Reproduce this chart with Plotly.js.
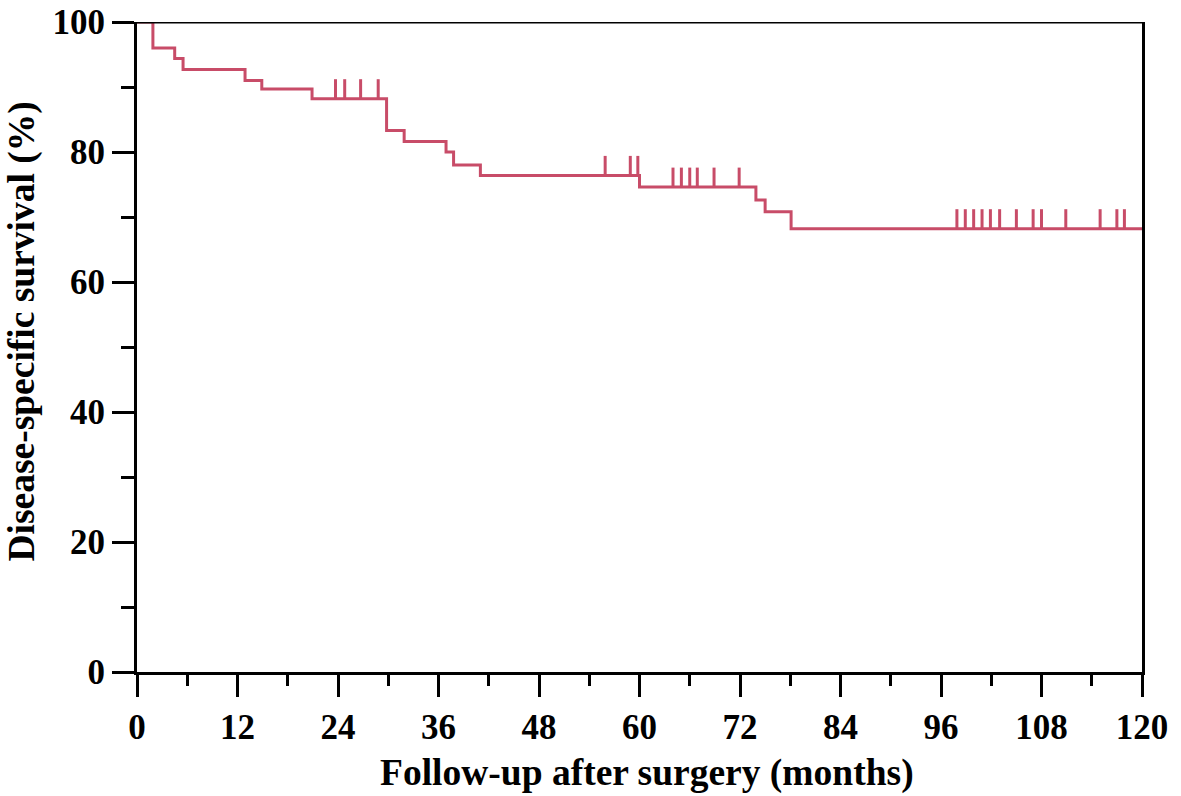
<!DOCTYPE html>
<html>
<head>
<meta charset="utf-8">
<script src="https://cdn.plot.ly/plotly-3.0.1.min.js"></script>
<style>html,body{margin:0;padding:0;background:#fff;}#chart{width:1181px;height:796px;}</style>
</head>
<body>
<div id="chart"></div>
<script>
// Kaplan-Meier step curve (months, survival %)
const stepTimes    = [0, 1.9, 4.5, 5.5, 12.9, 14.9, 20.9, 29.8, 31.9, 36.9, 37.8, 41.0, 60.0, 73.9, 75.0, 78.1, 120];
const stepSurvival = [100, 96.0, 94.4, 92.7, 91.0, 89.7, 88.2, 83.3, 81.6, 80.0, 78.0, 76.4, 74.6, 72.6, 70.8, 68.2, 68.2];
// Censored observations (months)
const censorTimes = [23.7, 24.8, 26.7, 28.8, 55.9, 58.9, 59.8, 64.0, 65.0, 66.0, 66.9, 68.9, 71.9,
                     97.9, 98.9, 99.9, 100.9, 101.9, 103.0, 105.0, 107.0, 108.0, 110.9, 115.0, 117.0, 117.9];
const xTickVals = [0, 12, 24, 36, 48, 60, 72, 84, 96, 108, 120];
const yTickVals = [0, 20, 40, 60, 80, 100];
const xTitle = 'Follow-up after surgery (months)';
const yTitle = 'Disease-specific survival (%)';

const COLOR = '#c84c68';
const TICK_H = 3;

function survAt(t) {
  let s = stepSurvival[0];
  for (let i = 0; i < stepTimes.length; i++) {
    if (stepTimes[i] <= t) s = stepSurvival[i];
  }
  return s;
}

const cx = [], cy = [];
censorTimes.forEach(t => {
  const s = survAt(t);
  cx.push(t, t, null);
  cy.push(s, s + TICK_H, null);
});

const font = {family: 'Liberation Serif, Times New Roman, serif', size: 35, color: '#000', weight: 700};
const titleFont = Object.assign({}, font, {size: 37.5});

const traces = [
  {x: stepTimes, y: stepSurvival, type: 'scatter', mode: 'lines', line: {shape: 'hv', color: COLOR, width: 3}, hoverinfo: 'skip'},
  {x: cx, y: cy, type: 'scatter', mode: 'lines', line: {color: COLOR, width: 3}, hoverinfo: 'skip'}
];

const axisCommon = {
  showgrid: false, zeroline: false,
  showline: true, linecolor: '#000', linewidth: 3,
  ticks: 'outside', ticklen: 22, tickwidth: 3, tickcolor: '#000',
  tickfont: font
};

const layout = {
  width: 1181, height: 796,
  margin: {l: 137, r: 39, t: 22, b: 124},
  paper_bgcolor: '#fff', plot_bgcolor: '#fff',
  showlegend: false,
  xaxis: Object.assign({}, axisCommon, {
    range: [0, 120], tickmode: 'array', tickvals: xTickVals, ticktext: xTickVals.map(String),
    mirror: false,
    minor: {dtick: 6, tick0: 0, ticks: 'outside', ticklen: 11, tickwidth: 3, tickcolor: '#000'}
  }),
  yaxis: Object.assign({}, axisCommon, {
    range: [0, 100], tickmode: 'array', tickvals: yTickVals, ticktext: yTickVals.map(String),
    mirror: true,
    minor: {dtick: 10, tick0: 0, ticks: 'outside', ticklen: 13, tickwidth: 3, tickcolor: '#000'}
  }),
  shapes: [
    {type: 'line', xref: 'paper', yref: 'y', x0: -0.0015, x1: 1.0015, y0: 100, y1: 100,
     line: {color: '#000', width: 3}, layer: 'above'}
  ],
  annotations: [
    {text: xTitle, xref: 'paper', yref: 'paper', x: 0.507, y: -0.155, xanchor: 'center', yanchor: 'middle',
     showarrow: false, font: titleFont},
    {text: yTitle, xref: 'paper', yref: 'paper', x: -0.1144, y: 0.5238, xanchor: 'center', yanchor: 'middle',
     textangle: -90, showarrow: false, font: titleFont}
  ]
};

Plotly.newPlot('chart', traces, layout, {staticPlot: true, displayModeBar: false});
</script>
</body>
</html>
